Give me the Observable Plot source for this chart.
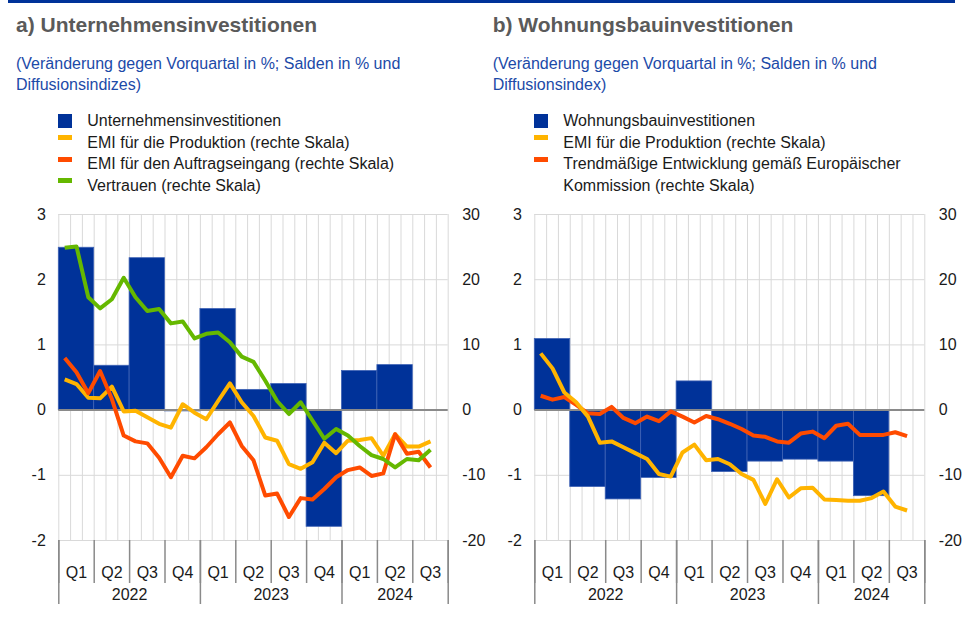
<!DOCTYPE html>
<html><head><meta charset="utf-8">
<script src="https://cdn.jsdelivr.net/npm/d3@7"></script>
<script src="https://cdn.jsdelivr.net/npm/@observablehq/plot@0.6"></script>
<style>
body{margin:0;background:#fff;font-family:"Liberation Sans",Arial,sans-serif;}
#root{position:relative;width:962px;height:620px;overflow:hidden;}
.topline{position:absolute;left:8px;top:0;width:947px;height:2.5px;background:#003299;}
.title{position:absolute;font-weight:bold;font-size:21px;line-height:21px;color:#5a5a5a;white-space:nowrap;}
.sub{position:absolute;font-size:16px;line-height:21px;color:#1c4aa8;white-space:nowrap;}
.leg{position:absolute;font-size:16px;line-height:21.6px;color:#1a1a1a;white-space:nowrap;}
.sw{position:absolute;}
.chart{position:absolute;top:200px;}
.chart svg{overflow:visible;}
</style></head>
<body><div id="root"><div class="topline"></div></div>
<script>
// ---------- data ----------
const quarterLabels = ["Q1","Q2","Q3","Q4","Q1","Q2","Q3","Q4","Q1","Q2","Q3"];
const yearLabels = ["2022","2023","2024"];
const yearQuarterCounts = [4,4,3];
const leftTicks = [-2,-1,0,1,2,3];

// Panel a (quarterly bars, % q-o-q; monthly lines Jan 2022 - Aug 2024, right scale)
const businessInvestment = [2.49,0.68,2.33,-0.02,1.55,0.31,0.40,-1.79,0.60,0.69];
const pmiOutputA = [4.7,4.0,1.9,1.8,3.6,-0.2,-0.1,-1.1,-2.1,-2.7,0.9,-0.4,-1.4,1.4,4.1,1.2,
  -0.9,-4.2,-4.7,-8.3,-9.0,-8.0,-5.0,-6.6,-4.7,-4.6,-4.3,-7.0,-3.7,-5.6,-5.6,-4.8];
const pmiNewOrdersA = [8.0,5.8,2.6,6.0,1.7,-3.9,-4.8,-5.1,-7.3,-10.3,-7.0,-7.4,-5.7,-3.7,-1.9,-5.5,
  -7.7,-13.1,-12.8,-16.4,-13.5,-13.7,-12.1,-10.3,-9.2,-8.8,-10.1,-9.7,-3.7,-6.7,-6.4,-8.8];
const confidenceA = [24.9,25.1,17.3,15.6,17.0,20.3,17.3,15.2,15.5,13.3,13.6,11.0,11.7,11.9,10.4,8.2,
  7.4,4.5,1.4,-0.6,1.2,-1.6,-4.4,-2.9,-3.9,-5.5,-6.9,-7.5,-8.8,-7.5,-7.7,-6.1];

// Panel b
const housingInvestment = [1.09,-1.18,-1.37,-1.04,0.44,-0.95,-0.79,-0.76,-0.79,-1.32];
const pmiOutputB = [8.7,6.4,2.7,1.2,-1.0,-5.0,-4.8,-5.7,-6.6,-7.5,-9.8,-10.2,-6.5,-5.3,-7.7,-7.5,
  -8.3,-9.8,-10.7,-14.4,-10.6,-13.4,-12.0,-11.9,-13.7,-13.8,-13.9,-13.9,-13.5,-12.5,-14.8,-15.4];
const ecTrendB = [2.2,1.6,2.0,0.8,-0.5,-0.6,0.5,-1.2,-2.0,-1.0,-1.7,-0.2,-1.0,-1.9,-0.9,-1.4,
  -2.1,-2.9,-3.9,-4.1,-4.8,-5.0,-3.6,-3.3,-4.3,-2.4,-2.1,-3.8,-3.8,-3.8,-3.4,-4.0];

const BLUE="#003299", YELLOW="#FFB400", ORANGE="#FF4B00", GREEN="#65B800";

const panels = [
  {left:0, width:480, mL:58.3, mR:32.3, titleX:16, title:"a) Unternehmensinvestitionen",
   sub:["(Veränderung gegen Vorquartal in %; Salden in % und","Diffusionsindizes)"],
   bars:businessInvestment,
   lines:[{v:pmiOutputA,c:YELLOW},{v:pmiNewOrdersA,c:ORANGE},{v:confidenceA,c:GREEN}],
   legend:[{t:"rect",c:BLUE,l:["Unternehmensinvestitionen"]},
           {t:"line",c:YELLOW,l:["EMI für die Produktion (rechte Skala)"]},
           {t:"line",c:ORANGE,l:["EMI für den Auftragseingang (rechte Skala)"]},
           {t:"line",c:GREEN,l:["Vertrauen (rechte Skala)"]}]},
  {left:480, width:482, mL:54.3, mR:37.7, titleX:492.7, title:"b) Wohnungsbauinvestitionen",
   sub:["(Veränderung gegen Vorquartal in %; Salden in % und","Diffusionsindex)"],
   bars:housingInvestment,
   lines:[{v:ecTrendB,c:ORANGE},{v:pmiOutputB,c:YELLOW}],
   legend:[{t:"rect",c:BLUE,l:["Wohnungsbauinvestitionen"]},
           {t:"line",c:YELLOW,l:["EMI für die Produktion (rechte Skala)"]},
           {t:"line",c:ORANGE,l:["Trendmäßige Entwicklung gemäß Europäischer","Kommission (rechte Skala)"]}]}
];

const root = document.getElementById("root");
const nMonths = quarterLabels.length*3;
const quarterBounds = d3.range(0, nMonths+1, 3);
const yearBounds = [0];
yearQuarterCounts.forEach(c => yearBounds.push(yearBounds[yearBounds.length-1]+c*3));

function el(cls, css, html){
  const d=document.createElement("div"); d.className=cls; Object.assign(d.style,css);
  if(html!==undefined) d.innerHTML=html; root.appendChild(d); return d;
}

panels.forEach(p=>{
  el("title",{left:p.titleX+"px",top:"13.9px"},p.title);
  el("sub",{left:p.titleX+"px",top:"52.8px"},p.sub.join("<br>"));
  const plotLeft = p.left + p.mL;
  let row=0;
  p.legend.forEach(item=>{
    const top = 110.2 + row*21.6;
    if(item.t==="rect") el("sw",{left:plotLeft+"px",top:(top+3.8)+"px",width:"14px",height:"14px",background:item.c});
    else el("sw",{left:plotLeft+"px",top:(top+3.4)+"px",width:"14px",height:"5px",background:item.c});
    el("leg",{left:(plotLeft+29)+"px",top:top+"px"},item.l.join("<br>"));
    row += item.l.length;
  });

  const barData = p.bars.map((v,i)=>({q:i,v}));
  const lineMarks = p.lines.map(s=>Plot.line(s.v.map((v,i)=>({m:i,v})),
    {x:d=>d.m+0.5, y:d=>d.v/10, stroke:s.c, strokeWidth:4, strokeLinejoin:"round", strokeLinecap:"butt"}));
  const qData = quarterLabels.map((l,i)=>({i,l}));
  const yData = yearLabels.map((l,i)=>({l,a:yearBounds[i],b:yearBounds[i+1]}));

  const chart = Plot.plot({
    width:p.width, height:420, marginLeft:p.mL, marginRight:p.mR, marginTop:14, marginBottom:80,
    x:{domain:[0,nMonths], axis:null},
    y:{domain:[-2,3], axis:null},
    style:{fontFamily:'"Liberation Sans",Arial,sans-serif', fontSize:"16px", color:"#1a1a1a", background:"transparent", overflow:"visible"},
    marks:[
      Plot.gridY({ticks:leftTicks, stroke:"#d9d9d9", strokeOpacity:1, strokeWidth:1}),
      Plot.gridX({ticks:d3.range(0,nMonths+1), stroke:"#d9d9d9", strokeOpacity:1, strokeWidth:1}),
      Plot.rectY(barData,{x1:d=>d.q*3, x2:d=>d.q*3+3, y1:0, y2:"v", fill:BLUE, stroke:"#3f63b5", strokeWidth:0.8}),
      Plot.ruleY([0],{stroke:"#8a8a8a", strokeWidth:2}),
      ...lineMarks,
      Plot.axisY({ticks:leftTicks, anchor:"left", tickSize:0, tickPadding:13, tickFormat:d=>String(d), label:null, fontSize:16}),
      Plot.axisY({ticks:leftTicks, anchor:"right", tickSize:0, tickPadding:14, tickFormat:d=>String(d*10), label:null, fontSize:16}),
      Plot.axisX({ticks:quarterBounds, tickSize:43, tickFormat:()=>"", label:null, stroke:"#8a8a8a", strokeWidth:1.5}),
      Plot.axisX({ticks:yearBounds, tickSize:64, tickFormat:()=>"", label:null, stroke:"#8a8a8a", strokeWidth:1.5}),
      Plot.text(qData,{x:d=>d.i*3+1.5, text:"l", frameAnchor:"bottom", dy:32, lineAnchor:"middle", fontSize:16, fill:"#1a1a1a"}),
      Plot.text(yData,{x:d=>(d.a+d.b)/2, text:"l", frameAnchor:"bottom", dy:54, lineAnchor:"middle", fontSize:16, fill:"#1a1a1a"})
    ]
  });
  const wrap = el("chart",{left:p.left+"px"});
  wrap.appendChild(chart);
});
</script>
</body></html>
